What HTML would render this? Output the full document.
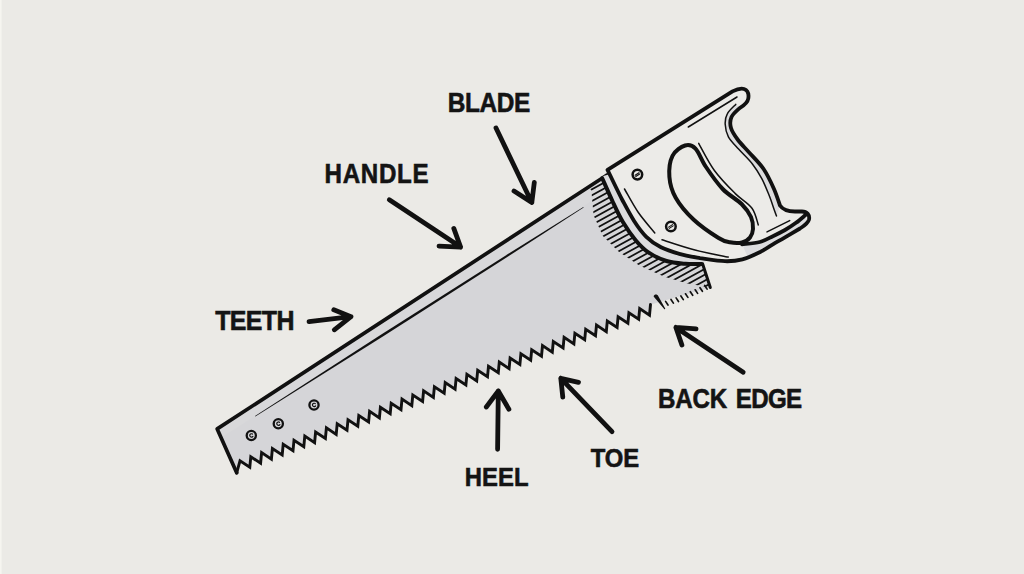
<!DOCTYPE html>
<html><head><meta charset="utf-8"><style>
html,body{margin:0;padding:0;width:1024px;height:574px;overflow:hidden;background:#ebeae6}
svg{display:block}
text{font-family:"Liberation Sans",sans-serif;font-weight:bold;fill:#141414;stroke:#141414;stroke-width:0.6px}
</style></head><body>
<svg width="1024" height="574" viewBox="0 0 1024 574">
<rect width="1024" height="574" fill="#ebeae6"/>
<rect width="1.6" height="574" fill="#f6f5f0"/>
<path d="M217.2,428.9 L607.0,175.0 L612.0,180.0 L612.4,201.0 L622.9,222.0 L635.6,240.2 L648.4,252.4 L666.5,261.0 L685.4,263.8 L702.0,264.0 L710.3,287.5 L654.5,303.5 L650.5,304.5 L649.5,315.1 L639.7,308.6 L638.7,319.2 L628.9,312.7 L627.9,323.3 L618.1,316.8 L617.1,327.4 L607.3,321.0 L606.3,331.6 L596.5,325.1 L595.5,335.7 L585.7,329.2 L584.7,339.8 L574.9,333.3 L573.9,343.9 L564.1,337.4 L563.1,348.0 L553.3,341.5 L552.3,352.1 L542.5,345.6 L541.5,356.2 L531.7,349.7 L530.7,360.3 L520.9,353.9 L519.9,364.5 L510.1,358.0 L509.1,368.6 L499.3,362.1 L498.3,372.7 L488.5,366.2 L487.5,376.8 L477.7,370.3 L476.7,380.9 L466.9,374.4 L465.9,385.0 L456.1,378.5 L455.1,389.1 L445.2,382.6 L444.2,393.2 L434.4,386.8 L433.4,397.4 L423.6,390.9 L422.6,401.5 L412.8,395.0 L411.8,405.6 L402.0,399.1 L401.0,409.7 L391.2,403.2 L390.2,413.8 L380.4,407.3 L379.4,417.9 L369.6,411.4 L368.6,422.0 L358.8,415.6 L357.8,426.2 L348.0,419.7 L347.0,430.3 L337.2,423.8 L336.2,434.4 L326.4,427.9 L325.4,438.5 L315.6,432.0 L314.6,442.6 L304.8,436.1 L303.8,446.7 L294.0,440.2 L293.0,450.8 L283.2,444.3 L282.2,454.9 L272.4,448.5 L271.4,459.1 L261.6,452.6 L260.6,463.2 L250.8,456.7 L249.8,467.3 L240.0,460.8 L236.7,472.8Z" fill="#d5d5d8"/>
<path d="M217.2,428.9 L607.0,175.0 L600.0,195.5 L256.0,415.5 L222.0,437.0Z" fill="#d8d8da"/>
<defs><clipPath id="bc"><path d="M217.2,428.9 L607.0,175.0 L612.0,180.0 L612.4,201.0 L622.9,222.0 L635.6,240.2 L648.4,252.4 L666.5,261.0 L685.4,263.8 L702.0,264.0 L710.3,287.5 L654.5,303.5 L650.5,304.5 L649.5,315.1 L639.7,308.6 L638.7,319.2 L628.9,312.7 L627.9,323.3 L618.1,316.8 L617.1,327.4 L607.3,321.0 L606.3,331.6 L596.5,325.1 L595.5,335.7 L585.7,329.2 L584.7,339.8 L574.9,333.3 L573.9,343.9 L564.1,337.4 L563.1,348.0 L553.3,341.5 L552.3,352.1 L542.5,345.6 L541.5,356.2 L531.7,349.7 L530.7,360.3 L520.9,353.9 L519.9,364.5 L510.1,358.0 L509.1,368.6 L499.3,362.1 L498.3,372.7 L488.5,366.2 L487.5,376.8 L477.7,370.3 L476.7,380.9 L466.9,374.4 L465.9,385.0 L456.1,378.5 L455.1,389.1 L445.2,382.6 L444.2,393.2 L434.4,386.8 L433.4,397.4 L423.6,390.9 L422.6,401.5 L412.8,395.0 L411.8,405.6 L402.0,399.1 L401.0,409.7 L391.2,403.2 L390.2,413.8 L380.4,407.3 L379.4,417.9 L369.6,411.4 L368.6,422.0 L358.8,415.6 L357.8,426.2 L348.0,419.7 L347.0,430.3 L337.2,423.8 L336.2,434.4 L326.4,427.9 L325.4,438.5 L315.6,432.0 L314.6,442.6 L304.8,436.1 L303.8,446.7 L294.0,440.2 L293.0,450.8 L283.2,444.3 L282.2,454.9 L272.4,448.5 L271.4,459.1 L261.6,452.6 L260.6,463.2 L250.8,456.7 L249.8,467.3 L240.0,460.8 L236.7,472.8Z"/></clipPath><clipPath id="hc"><path d="M600.0,160.0 L640.0,160.0 L622.9,222.0 L635.6,240.2 L648.4,252.4 L666.5,261.0 L685.4,263.8 L702.0,264.0 L740.0,263.0 L740.0,300.0 L712.0,288.0 L686.5,283.3 L663.8,276.5 L638.9,265.2 L618.5,251.6 L602.7,235.7 L593.6,215.3 L591.3,190.0 L585.0,185.0Z"/></clipPath></defs>
<g clip-path="url(#bc)"><g clip-path="url(#hc)"><path d="M560.0,142.0 L740.0,43.0 M560.0,147.9 L740.0,48.9 M560.0,153.8 L740.0,54.8 M560.0,159.7 L740.0,60.7 M560.0,165.6 L740.0,66.6 M560.0,171.5 L740.0,72.5 M560.0,177.4 L740.0,78.4 M560.0,183.3 L740.0,84.3 M560.0,189.2 L740.0,90.2 M560.0,195.1 L740.0,96.1 M560.0,201.0 L740.0,102.0 M560.0,206.9 L740.0,107.9 M560.0,212.8 L740.0,113.8 M560.0,218.7 L740.0,119.7 M560.0,224.6 L740.0,125.6 M560.0,230.5 L740.0,131.5 M560.0,236.4 L740.0,137.4 M560.0,242.3 L740.0,143.3 M560.0,248.2 L740.0,149.2 M560.0,254.1 L740.0,155.1 M560.0,260.0 L740.0,161.0 M560.0,265.9 L740.0,166.9 M560.0,271.8 L740.0,172.8 M560.0,277.7 L740.0,178.7 M560.0,283.6 L740.0,184.6 M560.0,289.5 L740.0,190.5 M560.0,295.4 L740.0,196.4 M560.0,301.3 L740.0,202.3 M560.0,307.2 L740.0,208.2 M560.0,313.1 L740.0,214.1 M560.0,319.0 L740.0,220.0 M560.0,324.9 L740.0,225.9 M560.0,330.8 L740.0,231.8 M560.0,336.7 L740.0,237.7 M560.0,342.6 L740.0,243.6 M560.0,348.5 L740.0,249.5 M560.0,354.4 L740.0,255.4 M560.0,360.3 L740.0,261.3 M560.0,366.2 L740.0,267.2 M560.0,372.1 L740.0,273.1 M560.0,378.0 L740.0,279.0 M560.0,383.9 L740.0,284.9 M560.0,389.8 L740.0,290.8 M560.0,395.7 L740.0,296.7 M560.0,401.6 L740.0,302.6 M560.0,407.5 L740.0,308.5 M560.0,413.4 L740.0,314.4 M560.0,419.3 L740.0,320.3 M560.0,425.2 L740.0,326.2 M560.0,431.1 L740.0,332.1 M560.0,437.0 L740.0,338.0 M560.0,442.9 L740.0,343.9 M560.0,448.8 L740.0,349.8 M560.0,454.7 L740.0,355.7 M560.0,460.6 L740.0,361.6 M560.0,466.5 L740.0,367.5 M560.0,472.4 L740.0,373.4 M560.0,478.3 L740.0,379.3 M560.0,484.2 L740.0,385.2 M560.0,490.1 L740.0,391.1 M560.0,496.0 L740.0,397.0 M560.0,501.9 L740.0,402.9 M560.0,507.8 L740.0,408.8 M560.0,513.7 L740.0,414.7 M560.0,519.6 L740.0,420.6 M560.0,525.5 L740.0,426.5 M560.0,531.4 L740.0,432.4 M560.0,537.3 L740.0,438.3 M560.0,543.2 L740.0,444.2 M560.0,549.1 L740.0,450.1 M560.0,555.0 L740.0,456.0 M560.0,560.9 L740.0,461.9 M560.0,566.8 L740.0,467.8 M560.0,572.7 L740.0,473.7 M560.0,578.6 L740.0,479.6 M560.0,584.5 L740.0,485.5 M560.0,590.4 L740.0,491.4 M560.0,596.3 L740.0,497.3 M560.0,602.2 L740.0,503.2 M560.0,608.1 L740.0,509.1" stroke="#111111" stroke-width="1.75" fill="none"/></g></g>
<path d="M607.0,175.0 L217.2,428.9 L236.7,472.8" stroke="#111111" stroke-width="3.7" stroke-linecap="round" stroke-linejoin="round" fill="none"/>
<path d="M236.7,472.8 L240.0,460.8 L249.8,467.3 L250.8,456.7 L260.6,463.2 L261.6,452.6 L271.4,459.1 L272.4,448.5 L282.2,454.9 L283.2,444.3 L293.0,450.8 L294.0,440.2 L303.8,446.7 L304.8,436.1 L314.6,442.6 L315.6,432.0 L325.4,438.5 L326.4,427.9 L336.2,434.4 L337.2,423.8 L347.0,430.3 L348.0,419.7 L357.8,426.2 L358.8,415.6 L368.6,422.0 L369.6,411.4 L379.4,417.9 L380.4,407.3 L390.2,413.8 L391.2,403.2 L401.0,409.7 L402.0,399.1 L411.8,405.6 L412.8,395.0 L422.6,401.5 L423.6,390.9 L433.4,397.4 L434.4,386.8 L444.2,393.2 L445.2,382.6 L455.1,389.1 L456.1,378.5 L465.9,385.0 L466.9,374.4 L476.7,380.9 L477.7,370.3 L487.5,376.8 L488.5,366.2 L498.3,372.7 L499.3,362.1 L509.1,368.6 L510.1,358.0 L519.9,364.5 L520.9,353.9 L530.7,360.3 L531.7,349.7 L541.5,356.2 L542.5,345.6 L552.3,352.1 L553.3,341.5 L563.1,348.0 L564.1,337.4 L573.9,343.9 L574.9,333.3 L584.7,339.8 L585.7,329.2 L595.5,335.7 L596.5,325.1 L606.3,331.6 L607.3,321.0 L617.1,327.4 L618.1,316.8 L627.9,323.3 L628.9,312.7 L638.7,319.2 L639.7,308.6 L649.5,315.1 L650.5,304.5" stroke="#111111" stroke-width="2.9" stroke-linejoin="miter" stroke-miterlimit="5" stroke-linecap="round" fill="none"/>
<path d="M702,262 L710.3,287.5" stroke="#111111" stroke-width="3" stroke-linecap="round" fill="none"/>
<path d="M255.39,416.60 Q420.56,313.65 583.69,207.50 L583.31,206.90 Q418.14,309.85 255.01,416.00 Z" fill="#111111"/>
<path d="M653.6,296.6 C654.2,293.8 657.4,294.2 658.2,296.0 L665.2,308.4 C665.4,309 664.6,309.4 664.2,308.9 Z" fill="#111111"/>
<path d="M665.6,301.4 L668.0,305.0 M671.0,299.5 L673.4,303.1 M676.1,297.9 L678.5,301.5 M680.9,296.0 L683.3,299.6 M685.5,293.8 L687.9,297.4 M690.3,291.7 L692.7,295.3 M695.2,289.8 L697.6,293.4 M700.0,287.7 L702.4,291.3 M704.7,285.5 L707.1,289.1" stroke="#111111" stroke-width="1.7" stroke-linecap="round"/>
<circle cx="251.3" cy="435.5" r="4.6" fill="#d5d5d8" stroke="#111111" stroke-width="2.3"/><path d="M252.5,434.1 A1.7,1.7 0 1 0 252.9,436.4" stroke="#111111" stroke-width="1.2" fill="none" stroke-linecap="round"/>
<circle cx="278.3" cy="423.7" r="4.6" fill="#d5d5d8" stroke="#111111" stroke-width="2.3"/><path d="M279.5,422.3 A1.7,1.7 0 1 0 279.9,424.6" stroke="#111111" stroke-width="1.2" fill="none" stroke-linecap="round"/>
<circle cx="314.0" cy="405.0" r="4.6" fill="#d5d5d8" stroke="#111111" stroke-width="2.3"/><path d="M315.2,403.6 A1.7,1.7 0 1 0 315.6,405.9" stroke="#111111" stroke-width="1.2" fill="none" stroke-linecap="round"/>
<path d="M602.2,178.2 L612.4,201.0 L622.9,222.0 L635.6,240.2 L648.4,252.4 L666.5,261.0 L685.4,263.8 L702.0,264.0 L712.0,256.5 L697.6,255.5 L679.3,252.4 L661.0,246.3 L646.3,236.6 L634.1,220.7 L622.6,200.0 L608.5,174.5 L600.0,177.0Z" fill="#dcdcde"/>
<path d="M602.2,178.2 C603.9,182.0 609.0,193.7 612.4,201.0 C615.8,208.3 619.0,215.5 622.9,222.0 C626.8,228.5 631.4,235.1 635.6,240.2 C639.9,245.3 643.2,248.9 648.4,252.4 C653.5,255.9 660.3,259.1 666.5,261.0 C672.7,262.9 679.5,263.3 685.4,263.8 C691.3,264.3 699.2,264.0 702.0,264.0" stroke="#111111" stroke-width="4" fill="none" stroke-linecap="round"/>
<path d="M607.5,169.8 L732.5,91.4 C736.5,89.4 740.5,88.0 744,89.0 C747.5,90.2 749,94 748.3,98.5 C747.6,102.5 744,105.5 740,107.8 C738.6,109.1 733.0,113.6 731.5,117.0 C730.0,120.4 729.9,124.2 731.0,128.0 C732.1,131.8 735.0,136.0 738.0,140.0 C741.0,144.0 744.4,147.2 748.7,152.0 C753.0,156.8 759.4,162.8 763.6,169.0 C767.8,175.2 771.3,182.9 774.0,189.0 C776.7,195.1 779.0,202.8 780.0,205.5 C783,210 788,211.5 795,211.5 L802,211.5 C807,211.5 810,215 809,219.5 C808,223.5 804,226 800,228.5 C797.5,230.0 789.5,234.7 785.0,237.3 C780.5,240.0 777.1,241.9 772.9,244.4 C768.7,246.9 764.9,249.7 759.8,252.2 C754.7,254.7 748.2,257.9 742.4,259.4 C736.6,260.9 732.1,261.4 725.0,261.2 C717.9,261.0 704.2,258.7 700.0,258.2 C696.5,257.5 685.8,255.6 679.3,253.8 C672.8,252.0 666.5,250.1 661.0,247.3 C655.5,244.5 650.8,241.2 646.3,236.8 C641.8,232.4 638.0,227.1 634.1,221.0 C630.2,214.9 626.5,207.8 622.6,200.5 C618.8,193.2 612.9,180.9 611.0,177.0 Z" fill="#ecebe8"/>
<path d="M740.0,107.5 L731.5,117.0 L731.0,128.0 L738.0,140.0 L748.7,152.0 L763.6,169.0 L774.0,189.0 L780.0,205.5 L776.5,216.0 L774.3,210.0 L769.1,195.3 L761.8,178.6 L752.4,164.0 L738.8,149.3 L728.4,136.8 L725.2,124.3 L727.3,113.8 L735.7,104.4Z" fill="#dcdcde"/>
<path d="M735.7,104.4 C734.3,106.0 729.0,110.5 727.3,113.8 C725.5,117.1 725.0,120.5 725.2,124.3 C725.4,128.1 726.1,132.6 728.4,136.8 C730.7,141.0 734.8,144.8 738.8,149.3 C742.8,153.8 748.6,159.1 752.4,164.0 C756.2,168.9 759.0,173.4 761.8,178.6 C764.6,183.8 767.0,190.1 769.1,195.3 C771.2,200.5 773.1,206.6 774.3,210.0 C775.5,213.4 776.1,215.0 776.5,216.0" stroke="#111111" stroke-width="1.5" fill="none" stroke-linecap="round"/>
<path d="M742.0,244.3 L759.8,242.0 L772.9,236.2 L785.0,230.0 L796.0,222.8 L805.5,215.0 L806.0,223.0 L785.0,237.3 L772.9,244.4 L759.8,252.2 L748.0,257.5Z" fill="#dcdcde"/>
<path d="M607.5,169.8 L732.5,91.4 C736.5,89.4 740.5,88.0 744,89.0 C747.5,90.2 749,94 748.3,98.5 C747.6,102.5 744,105.5 740,107.8 C738.6,109.1 733.0,113.6 731.5,117.0 C730.0,120.4 729.9,124.2 731.0,128.0 C732.1,131.8 735.0,136.0 738.0,140.0 C741.0,144.0 744.4,147.2 748.7,152.0 C753.0,156.8 759.4,162.8 763.6,169.0 C767.8,175.2 771.3,182.9 774.0,189.0 C776.7,195.1 779.0,202.8 780.0,205.5 C783,210 788,211.5 795,211.5 L802,211.5 C807,211.5 810,215 809,219.5 C808,223.5 804,226 800,228.5 C797.5,230.0 789.5,234.7 785.0,237.3 C780.5,240.0 777.1,241.9 772.9,244.4 C768.7,246.9 764.9,249.7 759.8,252.2 C754.7,254.7 748.2,257.9 742.4,259.4 C736.6,260.9 732.1,261.4 725.0,261.2 C717.9,261.0 704.2,258.7 700.0,258.2 C696.5,257.5 685.8,255.6 679.3,253.8 C672.8,252.0 666.5,250.1 661.0,247.3 C655.5,244.5 650.8,241.2 646.3,236.8 C641.8,232.4 638.0,227.1 634.1,221.0 C630.2,214.9 626.5,207.8 622.6,200.5 C618.8,193.2 612.9,180.9 611.0,177.0 Z" stroke="#111111" stroke-width="3.8" fill="none" stroke-linejoin="round"/>
<path d="M685.1,145.5 C688.9,144.3 692.0,145.0 695.5,148.6 C699.0,152.2 701.5,160.3 706.0,167.0 C710.5,173.7 716.8,182.8 722.7,189.0 C728.6,195.2 736.9,199.3 741.6,204.0 C746.3,208.7 749.1,212.8 751.0,217.0 C752.9,221.2 753.2,225.6 753.0,229.0 C752.8,232.4 751.8,235.2 750.0,237.5 C748.2,239.8 745.3,241.7 742.0,242.5 C738.7,243.3 733.9,243.1 730.0,242.3 C726.1,241.6 724.7,241.8 718.6,238.0 C712.5,234.2 700.6,226.2 693.5,219.5 C686.4,212.8 679.7,204.8 675.7,197.7 C671.7,190.6 669.9,183.8 669.4,176.8 C668.9,169.8 669.9,161.1 672.5,155.9 C675.1,150.7 681.3,146.7 685.1,145.5Z" fill="#ebeae6" stroke="#111111" stroke-width="4"/>
<path d="M742.0,244.3 C745.0,243.9 754.6,243.3 759.8,242.0 C764.9,240.7 768.7,238.2 772.9,236.2 C777.1,234.2 781.1,232.2 785.0,230.0 C788.9,227.8 792.6,225.3 796.0,222.8 C799.4,220.3 803.9,216.3 805.5,215.0" stroke="#111111" stroke-width="3.8" fill="none" stroke-linecap="round"/>
<path d="M698.7,143.4 C701.3,147.9 708.3,162.1 714.4,170.5 C720.5,178.9 729.0,187.3 735.3,193.6 C741.6,199.9 748.2,203.0 752.0,208.2 C755.8,213.4 757.2,222.1 758.3,224.9" stroke="#111111" stroke-width="1.5" fill="none" stroke-linecap="round"/>
<path d="M688.3,127 L737,97" stroke="#111111" stroke-width="1.5" fill="none" stroke-linecap="round"/>
<path d="M624.5,189.0 C626.8,192.8 633.0,204.7 638.0,212.0 C643.0,219.3 652.0,229.5 654.8,233.0" stroke="#111111" stroke-width="1.5" fill="none" stroke-linecap="round"/>
<path d="M662.0,239.7 C667.5,241.4 684.0,247.1 695.0,250.0 C706.0,252.9 722.7,255.9 728.2,257.1" stroke="#111111" stroke-width="1.5" fill="none" stroke-linecap="round"/>
<path d="M767,231.9 L789.7,220.6" stroke="#111111" stroke-width="1.5" fill="none" stroke-linecap="round"/>
<circle cx="637.4" cy="174.6" r="4.8" fill="#ecebe8" stroke="#111111" stroke-width="2.5"/><path d="M635.1,175.2 L639.0,172.7 M635.8,176.5 L639.7,174.0" stroke="#111111" stroke-width="1.1" stroke-linecap="round"/>
<circle cx="670.9" cy="226.5" r="4.8" fill="#ecebe8" stroke="#111111" stroke-width="2.5"/><path d="M668.6,227.1 L672.5,224.6 M669.3,228.4 L673.2,225.9" stroke="#111111" stroke-width="1.1" stroke-linecap="round"/>
<text transform="translate(447.8,112.1) scale(0.900,1)" font-size="27.1" textLength="91.7" lengthAdjust="spacing">BLADE</text>
<text transform="translate(324.6,182.7) scale(0.900,1)" font-size="26.8" textLength="115.6" lengthAdjust="spacing">HANDLE</text>
<text transform="translate(215.2,329.7) scale(0.900,1)" font-size="27.7" textLength="88.0" lengthAdjust="spacing">TEETH</text>
<text transform="translate(658.0,407.6) scale(0.900,1)" font-size="26.8" textLength="76.8" lengthAdjust="spacing">BACK</text>
<text transform="translate(735.7,407.6) scale(0.900,1)" font-size="26.8" textLength="73.8" lengthAdjust="spacing">EDGE</text>
<text transform="translate(464.7,485.7) scale(0.900,1)" font-size="26.5" textLength="71.1" lengthAdjust="spacing">HEEL</text>
<text transform="translate(590.7,467.2) scale(0.900,1)" font-size="26.5" textLength="53.8" lengthAdjust="spacing">TOE</text>
<path d="M496.0,128.0 L531.8,202.5 M514.0,191.0 L531.8,202.5 L534.3,182.5" stroke="#111111" stroke-width="4.8" stroke-linecap="round" stroke-linejoin="round" fill="none"/>
<path d="M389.3,199.8 L460.6,247.1 M439.0,246.2 L460.6,247.1 L453.8,228.4" stroke="#111111" stroke-width="4.8" stroke-linecap="round" stroke-linejoin="round" fill="none"/>
<path d="M309.0,321.6 L351.0,316.7 M333.8,309.8 L351.0,316.7 L334.3,329.8" stroke="#111111" stroke-width="4.8" stroke-linecap="round" stroke-linejoin="round" fill="none"/>
<path d="M743.2,372.2 L675.9,327.4 M696.1,328.9 L675.9,327.4 L681.9,345.1" stroke="#111111" stroke-width="4.8" stroke-linecap="round" stroke-linejoin="round" fill="none"/>
<path d="M497.6,449.3 L498.3,391.0 M486.3,407.0 L498.3,391.0 L508.9,409.2" stroke="#111111" stroke-width="4.8" stroke-linecap="round" stroke-linejoin="round" fill="none"/>
<path d="M612.0,431.7 L560.8,378.3 M578.5,382.3 L560.8,378.3 L562.8,397.2" stroke="#111111" stroke-width="4.8" stroke-linecap="round" stroke-linejoin="round" fill="none"/>
</svg></body></html>
